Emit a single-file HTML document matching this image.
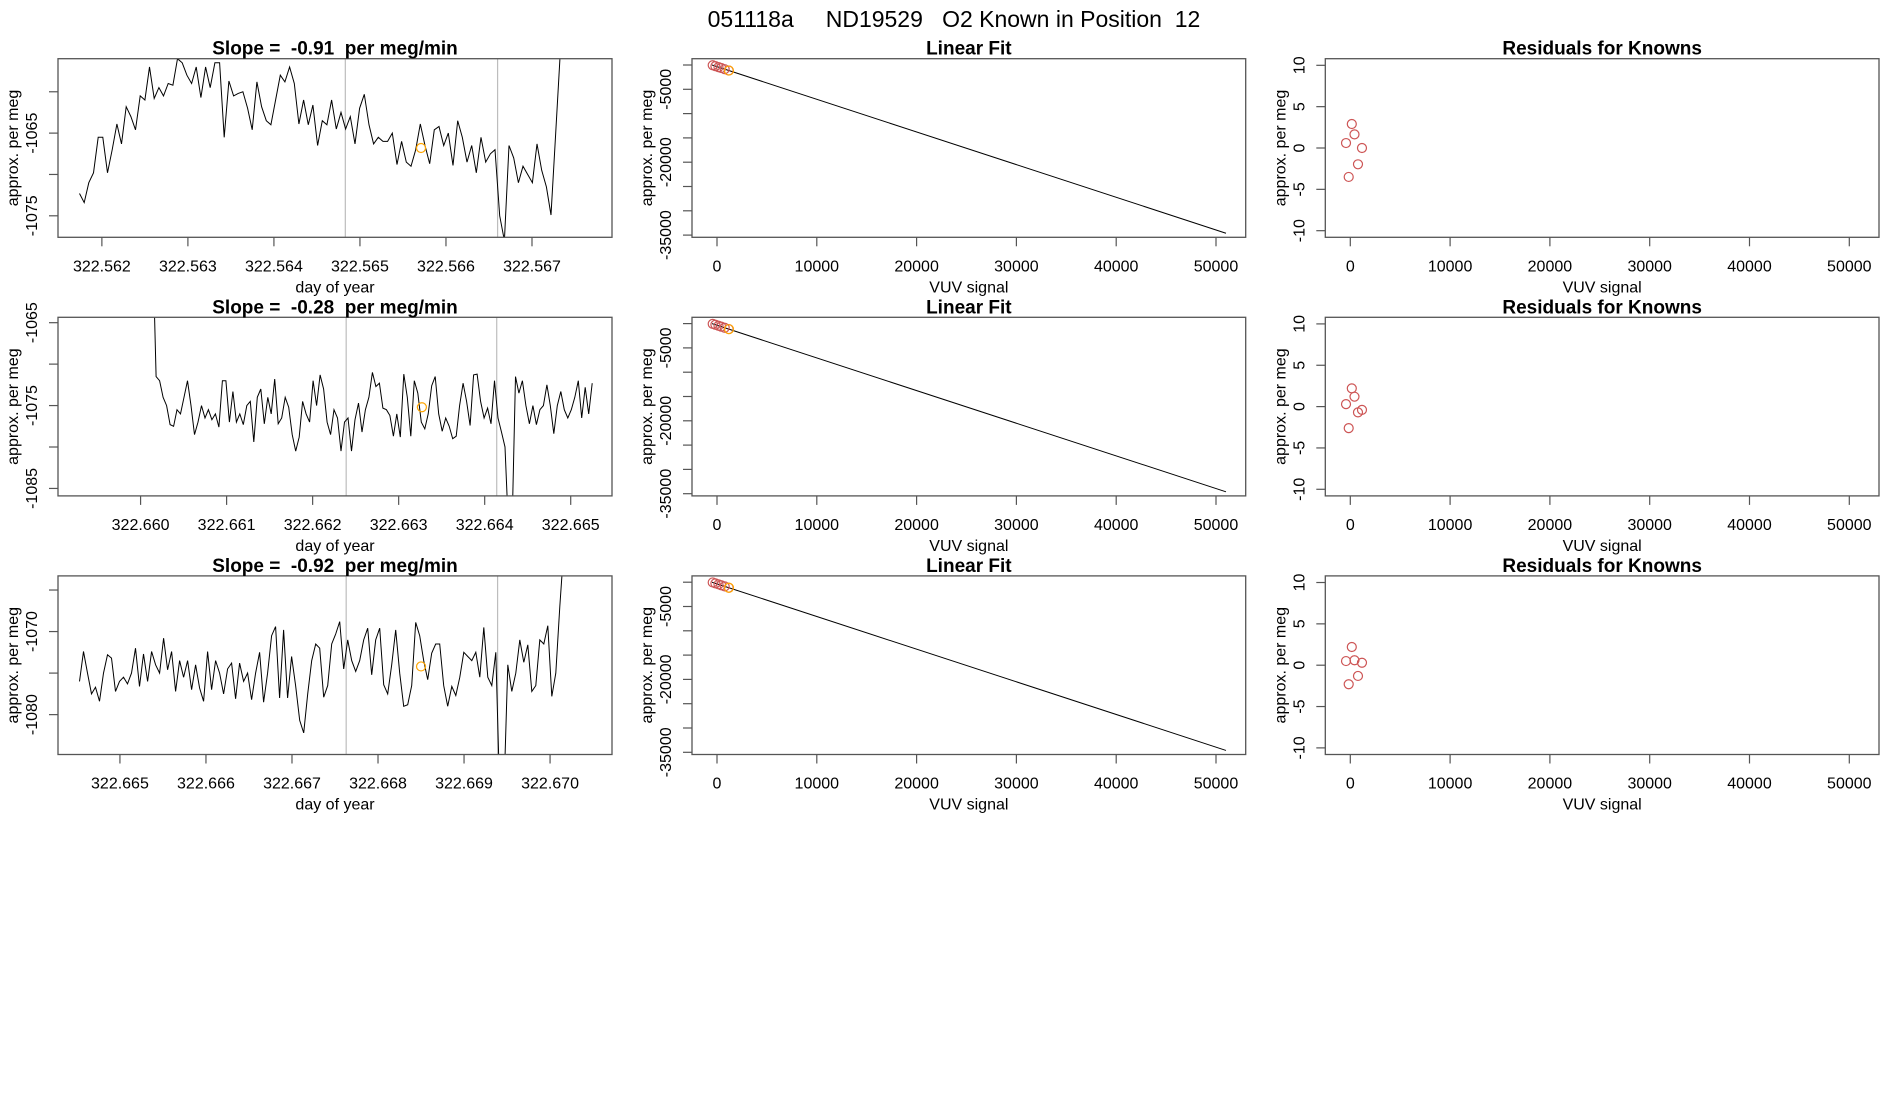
<!DOCTYPE html>
<html><head><meta charset="utf-8"><style>
html,body{margin:0;padding:0;background:#fff;}
svg{display:block;font-family:"Liberation Sans",Arial,sans-serif;}
text{white-space:pre;}
</style></head><body>
<svg id="chart" width="1900" height="1100" viewBox="0 0 1900 1100" xmlns="http://www.w3.org/2000/svg">
<rect width="1900" height="1100" fill="#fff"/>
<text x="954" y="27" font-size="23" text-anchor="middle" style="white-space:pre">051118a     ND19529   O2 Known in Position  12</text>
</svg>
<script>
// ---------- data ----------
const series1 = [-1072.3,-1073.4,-1071,-1069.8,-1065.5,-1065.5,-1069.8,-1067,-1063.9,-1066.3,-1061.8,-1063,-1064.6,-1060.5,-1061,-1057,-1060.8,-1059.5,-1060.5,-1059,-1059.2,-1056,-1056.5,-1058,-1059,-1057,-1060.7,-1057,-1059.5,-1056.5,-1056.5,-1065.5,-1058.7,-1060.5,-1060.2,-1060,-1062,-1064.6,-1058.8,-1061.8,-1063.5,-1064,-1061,-1058,-1058.8,-1057,-1059,-1063.9,-1061,-1064,-1061.6,-1066.5,-1063.5,-1064,-1061,-1064.5,-1062.5,-1064.5,-1063,-1066.3,-1062,-1060.3,-1064,-1066.3,-1065.5,-1066,-1066,-1065,-1068.8,-1066,-1068.5,-1069,-1067,-1063.9,-1066.5,-1068.7,-1064.6,-1064.2,-1066.5,-1065,-1068.9,-1063.5,-1065.5,-1068.5,-1066.5,-1069.8,-1065.5,-1068.5,-1067.5,-1067,-1075,-1078,-1066.5,-1068,-1071,-1069,-1070,-1071,-1066.3,-1069.5,-1071.5,-1074.9,-1065,-1055];
const series2 = [-1055,-1071.5,-1072,-1074,-1075,-1077.3,-1077.5,-1075.5,-1076,-1074,-1072,-1075,-1078.5,-1077,-1075,-1076.5,-1075.5,-1076.7,-1076,-1077.6,-1072,-1072,-1077,-1073.3,-1077,-1076,-1077.3,-1075,-1074.5,-1079.4,-1074,-1073,-1077.2,-1074,-1076,-1071.8,-1077.2,-1076.5,-1074,-1075.2,-1078.5,-1080.5,-1078.8,-1074.5,-1076,-1077,-1072,-1075,-1071.3,-1073,-1077,-1078.5,-1075.5,-1076.5,-1080.5,-1077,-1076.5,-1080.5,-1076.7,-1074.7,-1078.2,-1075.5,-1074,-1071,-1072.7,-1072.3,-1075.3,-1075.5,-1076.2,-1078.7,-1076,-1078.8,-1071.2,-1074,-1078.7,-1072,-1073.5,-1077,-1077.8,-1076,-1072.6,-1071.5,-1076,-1078.1,-1076.5,-1077.5,-1079,-1078.7,-1075,-1072.3,-1074.5,-1077.4,-1071.3,-1071.2,-1074.5,-1076.5,-1075.3,-1077.2,-1072,-1076.5,-1078.2,-1080,-1090,-1090,-1071.5,-1073.5,-1072,-1075,-1077.2,-1075,-1077.3,-1075.5,-1075,-1072.5,-1075,-1078.4,-1075,-1073.3,-1075.5,-1076.5,-1075.5,-1074,-1072,-1076.5,-1072.8,-1076,-1072.3];
const series3 = [-1076,-1072.4,-1075,-1077.5,-1076.7,-1078.4,-1075,-1072.8,-1073.2,-1077.2,-1076,-1075.5,-1076.3,-1075,-1072,-1076.6,-1072.7,-1076,-1072.4,-1074,-1075,-1070.8,-1074.6,-1072.4,-1077.2,-1073.5,-1075.5,-1073.5,-1077,-1074,-1076.8,-1078.4,-1072.4,-1077,-1073.5,-1075,-1077.5,-1074.5,-1073.8,-1078.1,-1073.8,-1076,-1075,-1078.2,-1075,-1072.5,-1078.5,-1075,-1070.5,-1069.4,-1078,-1069.8,-1078,-1073,-1076.5,-1080.7,-1082.2,-1077.5,-1073.5,-1071.5,-1072,-1077.9,-1076.5,-1071.5,-1070.3,-1068.8,-1074.5,-1071,-1073.5,-1074.8,-1073.5,-1071,-1069.6,-1075.2,-1071,-1069.6,-1076.4,-1077.5,-1074,-1069.8,-1075,-1079,-1078.8,-1076.5,-1068.9,-1070.5,-1073.5,-1075.8,-1072.6,-1071.5,-1071.5,-1076.5,-1079,-1076.6,-1077.7,-1075.5,-1072.5,-1073,-1073.5,-1072.5,-1075.5,-1069.5,-1075.5,-1076.5,-1072.5,-1090,-1090,-1074,-1077.2,-1075,-1071,-1073.7,-1071.6,-1077.2,-1076.5,-1071,-1071.5,-1069.3,-1077.8,-1075,-1067,-1060];
const seriesTimeRange = [[322.56174,322.56733],[322.66014,322.66525],[322.66453,322.67016]];
const knownTime = [322.56571,322.66327,322.66850];
const knownValue = [-1066.8,-1075.2,-1074.2];
const grayLineTimes = [[322.56483,322.56660],[322.66239,322.66414],[322.66763,322.66939]];
const slopeLabels = ["-0.91","-0.28","-0.92"];
const timeDomains = [[322.56149,322.56793],[322.65904,322.66548],[322.66428,322.67072]];
const valueDomains = [[-1077.6,-1056],[-1085.9,-1064.35],[-1084.8,-1063.3]];
const timeTicks = [[322.562,322.563,322.564,322.565,322.566,322.567],[322.660,322.661,322.662,322.663,322.664,322.665],[322.665,322.666,322.667,322.668,322.669,322.670]];
const valueTicks = [[-1075,-1070,-1065,-1060],[-1085,-1080,-1075,-1070,-1065],[-1080,-1075,-1070,-1065]];
const valueTickLabels = [["-1075","","-1065",""],["-1085","","-1075","","-1065"],["-1080","","-1070",""]];
const fitX = [-430,-160,150,420,770,1170];
const fitKnownX = [1200,1200,1200];
const fitSlope = [-0.672,-0.672,-0.672];
const fitIntercept = [-340,-340,-340];
const fitLineX = [-500,51000];
const fitXTicks = [0,10000,20000,30000,40000,50000];
const fitYTicks = [0,-5000,-10000,-15000,-20000,-25000,-30000,-35000];
const fitYTickLabels = ["","-5000","","","-20000","","","-35000"];
const resid1 = [0.6,-3.5,2.9,1.65,-1.97,0];
const resid2 = [0.3,-2.6,2.2,1.2,-0.7,-0.4];
const resid3 = [0.5,-2.3,2.2,0.6,-1.3,0.3];
const residYTicks = [-10,-5,0,5,10];

// ---------- drawing ----------
const NS = "http://www.w3.org/2000/svg";
const svg = document.getElementById('chart');
function mk(tag, attrs, parent){const e=document.createElementNS(NS,tag);for(const k in attrs)e.setAttribute(k,attrs[k]);(parent||svg).appendChild(e);return e;}
const cols=[[58,612],[692,1245.7],[1325.3,1879]];
const rowTops=[58.7,317.3,575.9];const H=178.6;
const series=[series1,series2,series3];
const resids=[resid1,resid2,resid3];
const fitXDom=[-2505,52976], fitYDom=[-35453,1296], resYDom=[-10.8,10.8];
function lin(d,r){return v=>r[0]+(v-d[0])/(d[1]-d[0])*(r[1]-r[0]);}

function axes(g,x0,x1,y0,y1,sx,sy,xt,xl,yt,yl,xlab,ylab,title){
  const b=mk('rect',{x:x0,y:y0,width:x1-x0,height:y1-y0,fill:'none',stroke:'#555','stroke-width':1.3},g);
  
  
  const t=mk('text',{x:(x0+x1)/2,y:y0-4,'font-size':19,'font-weight':'bold','text-anchor':'middle',style:'white-space:pre'},g);
  t.textContent=title;
  
  
  xt.forEach((v,i)=>{const x=sx(v);
    const l=mk('line',{x1:x,x2:x,y1:y1,y2:y1+9,stroke:'#555','stroke-width':1.2},g);
    
    
    const tx=mk('text',{x:x,y:y1+34,'font-size':16,'text-anchor':'middle'},g);tx.textContent=xl[i];
    
    
  });
  yt.forEach((v,i)=>{const y=sy(v);
    const l=mk('line',{x1:x0,x2:x0-9,y1:y,y2:y,stroke:'#555','stroke-width':1.2},g);
    
    
    if(yl[i]){const tx=mk('text',{x:0,y:0,'font-size':16,'text-anchor':'middle',transform:`translate(${x0-21},${y}) rotate(-90)`},g);tx.textContent=yl[i];
      
      }
  });
  const xa=mk('text',{x:(x0+x1)/2,y:y1+55,'font-size':16,'text-anchor':'middle'},g);xa.textContent=xlab;
  
  
  const ya=mk('text',{x:0,y:0,'font-size':16,'text-anchor':'middle',transform:`translate(${x0-40},${(y0+y1)/2}) rotate(-90)`},g);ya.textContent=ylab;
  
  
}

for(let r=0;r<3;r++){
  const y0=rowTops[r],y1=y0+H;
  let [x0,x1]=cols[0];
  let g=mk('g',{});
  
  
  const clipId='c'+r;
  const cp=mk('clipPath',{id:clipId},svg);mk('rect',{x:x0,y:y0,width:x1-x0,height:H},cp);
  let sx=lin(timeDomains[r],[x0,x1]), sy=lin(valueDomains[r],[y1,y0]);
  grayLineTimes[r].forEach(t=>{const gl=mk('line',{x1:sx(t),x2:sx(t),y1:y0,y2:y1,stroke:'#bdbdbd','stroke-width':1.2},g);
    
    });
  const s=series[r], tr=seriesTimeRange[r];
  const pts=s.map((v,i)=>{const t=tr[0]+(tr[1]-tr[0])*i/(s.length-1);return sx(t).toFixed(1)+','+sy(v).toFixed(1);}).join(' ');
  const pl=mk('polyline',{points:pts,fill:'none',stroke:'#000','stroke-width':1,'clip-path':`url(#${clipId})`},g);
  
  
  const kc=mk('circle',{cx:sx(knownTime[r]),cy:sy(knownValue[r]),r:4.5,fill:'none',stroke:'#FFA500','stroke-width':1.2},g);
  
  
  axes(g,x0,x1,y0,y1,sx,sy,timeTicks[r],timeTicks[r].map(v=>v.toFixed(3)),valueTicks[r],valueTickLabels[r],'day of year','approx. per meg','Slope =  '+slopeLabels[r]+'  per meg/min');

  [x0,x1]=cols[1];
  g=mk('g',{});
  
  
  sx=lin(fitXDom,[x0,x1]); sy=lin(fitYDom,[y1,y0]);
  const fl=mk('line',{x1:sx(fitLineX[0]),y1:sy(fitIntercept[r]+fitSlope[r]*fitLineX[0]),x2:sx(fitLineX[1]),y2:sy(fitIntercept[r]+fitSlope[r]*fitLineX[1]),stroke:'#000','stroke-width':1},g);
  
  
  fitX.forEach((xv,i)=>{const c=mk('circle',{cx:sx(xv),cy:sy(fitIntercept[r]+fitSlope[r]*xv+resids[r][i]),r:4.5,fill:'none',stroke:'#CD5555','stroke-width':1.2},g);
    
    });
  const ko=mk('circle',{cx:sx(fitKnownX[r]),cy:sy(fitIntercept[r]+fitSlope[r]*fitKnownX[r]),r:4.5,fill:'none',stroke:'#FFA500','stroke-width':1.2},g);
  
  
  axes(g,x0,x1,y0,y1,sx,sy,fitXTicks,fitXTicks.map(String),fitYTicks,fitYTickLabels,'VUV signal','approx. per meg','Linear Fit');

  [x0,x1]=cols[2];
  g=mk('g',{});
  
  
  sx=lin(fitXDom,[x0,x1]); sy=lin(resYDom,[y1,y0]);
  fitX.forEach((xv,i)=>{const c=mk('circle',{cx:sx(xv),cy:sy(resids[r][i]),r:4.5,fill:'none',stroke:'#CD5555','stroke-width':1.2},g);
    
    });
  axes(g,x0,x1,y0,y1,sx,sy,fitXTicks,fitXTicks.map(String),residYTicks,residYTicks.map(String),'VUV signal','approx. per meg','Residuals for Knowns');
}
</script>
</body></html>
